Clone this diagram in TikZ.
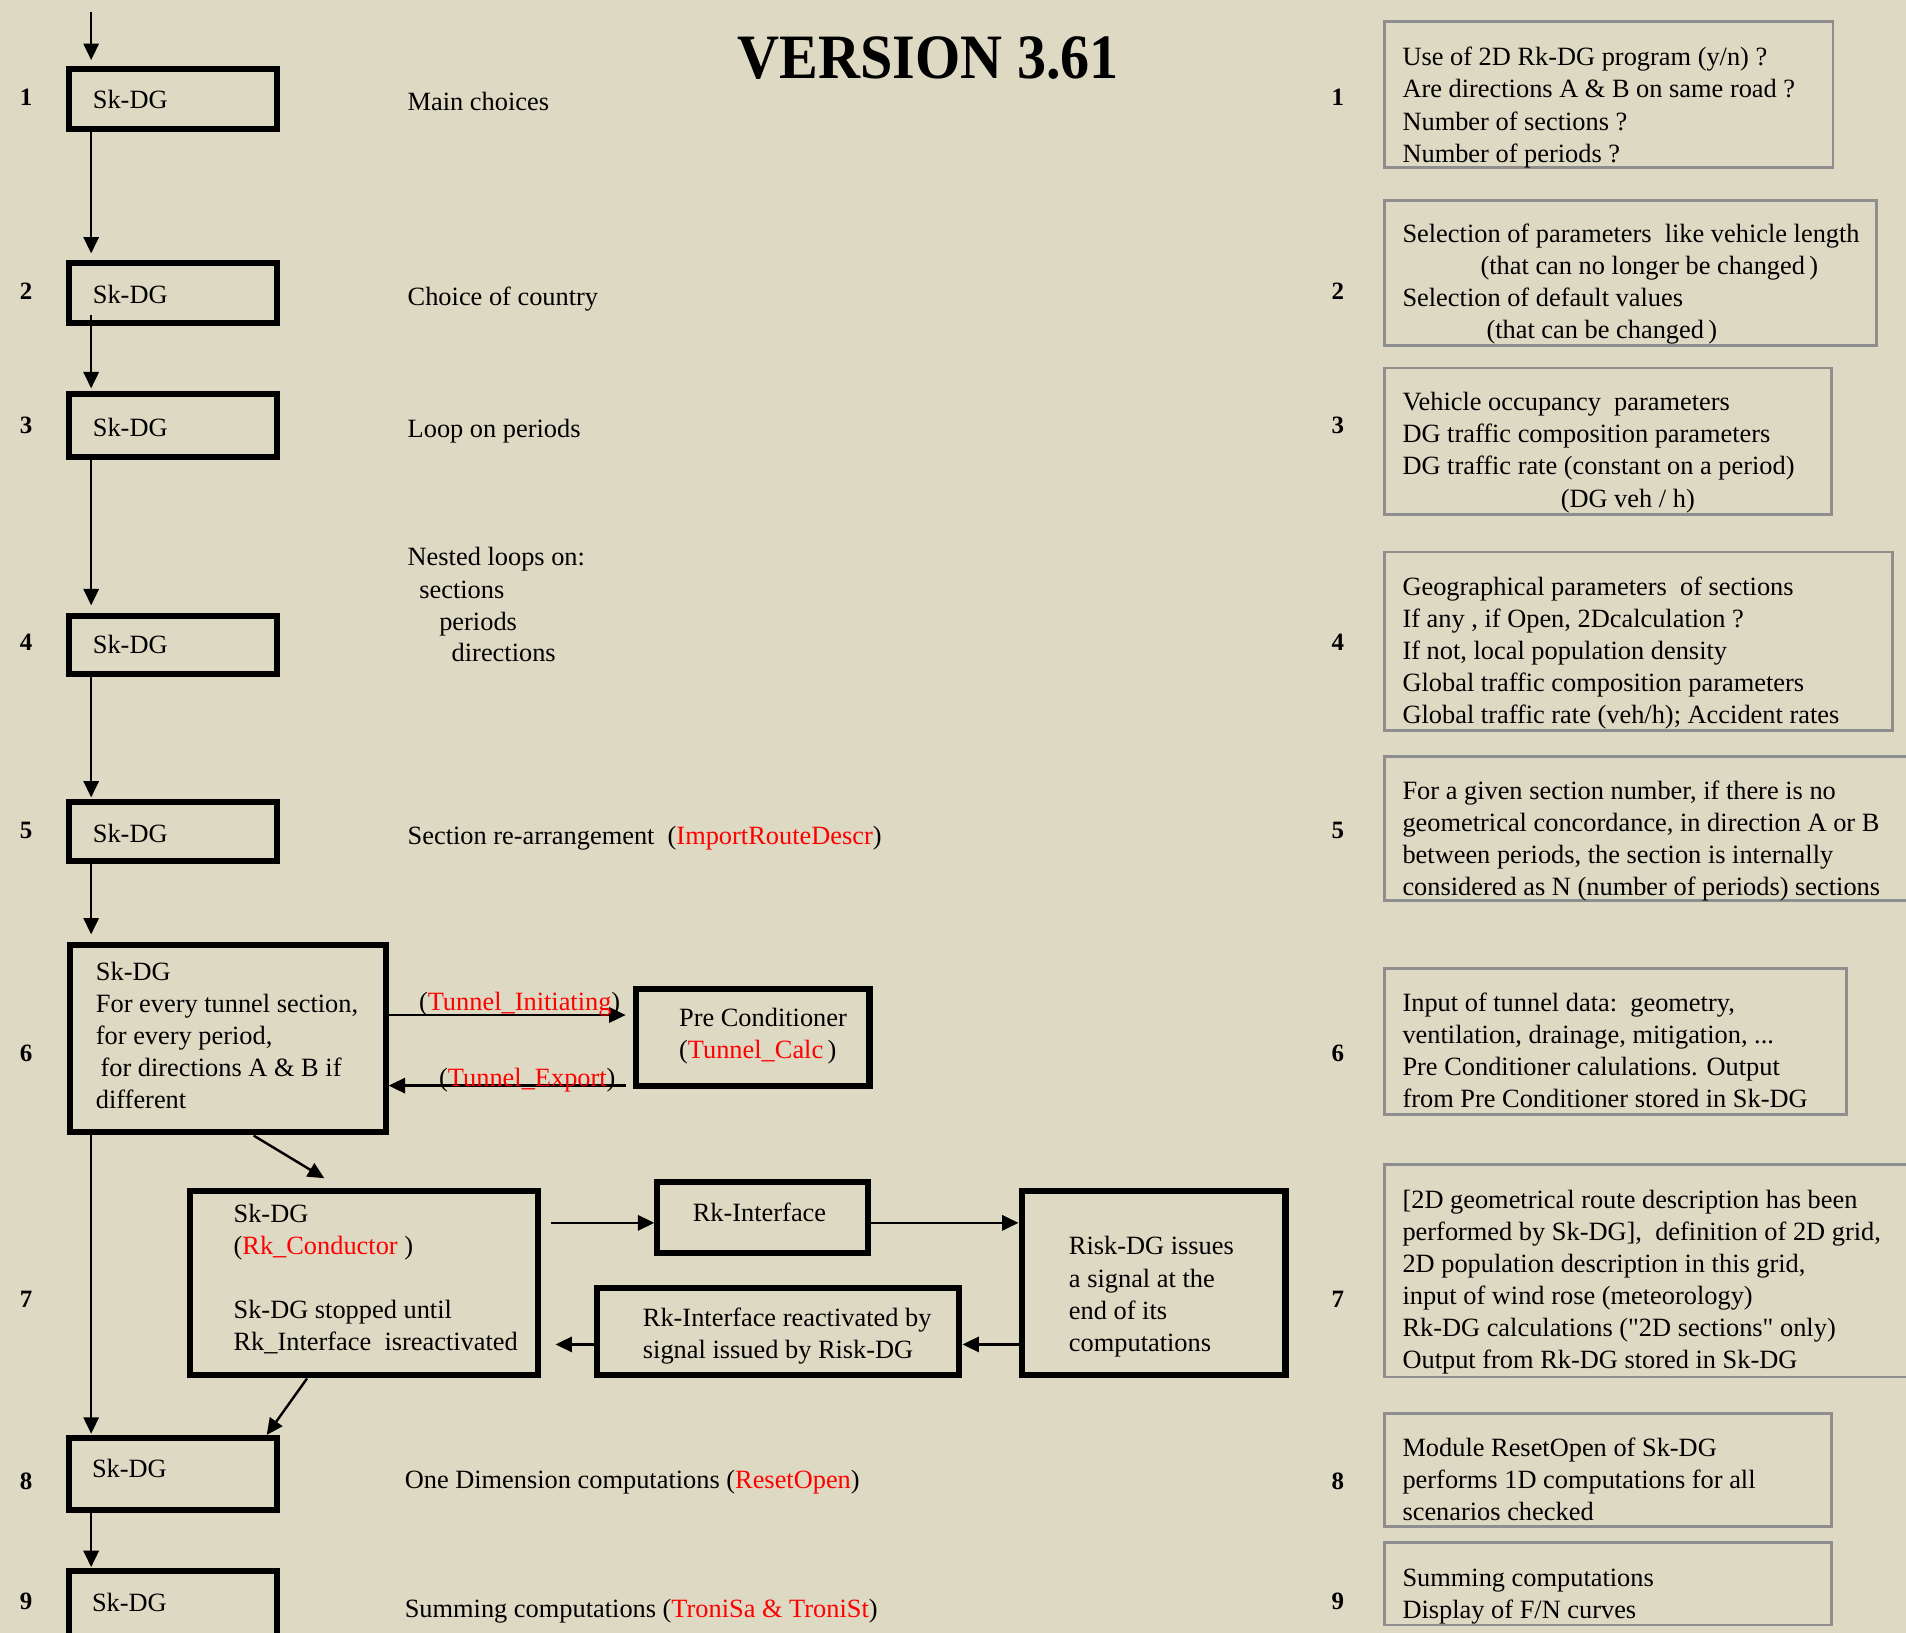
\documentclass[tikz,border=0pt]{standalone}
\usepackage{fontspec}
\setmainfont{Liberation Serif}
\newfontfamily\headfont[FakeStretch=0.92]{Liberation Serif}
\newfontfamily\straightfont[Ligatures=TeXOff]{Liberation Serif}
\usetikzlibrary{arrows.meta,calc}

\definecolor{paper}{HTML}{DDD9C3}
\definecolor{framegray}{HTML}{8E8E8E}
\newcommand\bodyfont{\fontsize{21.7pt}{26.4pt}\selectfont}
\newcommand\mlines[1]{\begin{tabular}[t]{@{}l@{}}#1\end{tabular}}
\newcommand\redtxt[1]{\textcolor{red}{#1}}
\newcommand\dq{{\straightfont\char34}}

\begin{document}
\begin{tikzpicture}[x=1pt,y=-1pt,
  flowbox/.style={draw=black,line width=5pt,inner sep=0pt},
  notebox/.style={draw=framegray,line width=2.2pt,inner sep=0pt,anchor=north west},
  arr/.style={line width=2pt,-{Triangle[length=13.5pt,width=12.5pt]}},
  lbl/.style={anchor=base west,inner sep=0pt,outer sep=0pt,font=\bodyfont},
  stepnum/.style={anchor=base,inner sep=0pt,font=\fontsize{20.5pt}{20.5pt}\selectfont\bfseries}]

% page
\useasboundingbox (0,0) rectangle (1568,1343);
\fill[paper] (0,0) rectangle (1568,1343);
\clip (0,0) rectangle (1568,1343);

% title
\node[anchor=base,inner sep=0pt,font=\headfont\fontsize{52pt}{52pt}\selectfont\bfseries] (title) at (763.7,64.4) {VERSION 3.61};

% ---------- main flow (Sk-DG steps) ----------
\node[flowbox,minimum width=171.2pt,minimum height=49.5pt] (b1) at (142.5,81.25) {};
\node[flowbox,minimum width=171.2pt,minimum height=49pt]   (b2) at (142.5,241) {};
\node[flowbox,minimum width=171.2pt,minimum height=51.5pt] (b3) at (142.5,350.25) {};
\node[flowbox,minimum width=171.2pt,minimum height=48pt]   (b4) at (142.5,530.5) {};
\node[flowbox,minimum width=171.2pt,minimum height=49pt]   (b5) at (142.5,684) {};
\node[flowbox,minimum width=259.7pt,minimum height=154pt]  (b6) at (187.35,854.2) {};
\node[flowbox,minimum width=286.5pt,minimum height=151.4pt] (b7) at (299.25,1055.8) {};
\node[flowbox,minimum width=171.2pt,minimum height=59.5pt] (b8) at (142.5,1212.75) {};
\node[flowbox,minimum width=171.2pt,minimum height=74.6pt] (b9) at (142.5,1330) {};

% side modules
\node[flowbox,minimum width=192pt,minimum height=80.2pt]    (pre)  at (619.3,853.5) {};
\node[flowbox,minimum width=172.9pt,minimum height=58pt]    (rk)   at (627.25,1001.7) {};
\node[flowbox,minimum width=217.1pt,minimum height=151.3pt] (risk) at (948.95,1055.75) {};
\node[flowbox,minimum width=298.3pt,minimum height=71.9pt]  (re)   at (640.15,1095.45) {};

% texts inside the boxes
\node[lbl] (t1) at (76.4,89.1) {Sk-DG};
\node[lbl] (t2) at (76.4,249.5) {Sk-DG};
\node[lbl] (t3) at (76.4,359.2) {Sk-DG};
\node[lbl] (t4) at (76.4,538) {Sk-DG};
\node[lbl] (t5) at (76.4,693) {Sk-DG};
\node[lbl] (t6) at (78.9,806.7) {\mlines{Sk-DG\\For every tunnel section,\\for every period,\\\hspace{3.8pt}for directions A \& B if\\different}};
\node[lbl] (t7) at (192.2,1005.8) {\mlines{Sk-DG\\(\redtxt{Rk\_Conductor} )\\ \\Sk-DG stopped until\\Rk\_Interface\ \ isreactivated}};
\node[lbl] (t8) at (75.7,1215.3) {Sk-DG};
\node[lbl] (t9) at (75.7,1325.8) {Sk-DG};
\node[lbl] (tpre) at (558.7,844.6) {\mlines{Pre Conditioner\\(\redtxt{Tunnel\_Calc}\,)}};
\node[lbl,anchor=base] (trk) at (624.8,1005) {Rk-Interface};
\node[lbl,font=\fontsize{21.7pt}{26.5pt}\selectfont] (trisk) at (879.4,1032.4) {\mlines{Risk-DG issues\\a signal at the\\end of its\\computations}};
\node[lbl] (tre) at (528.9,1091.4) {\mlines{Rk-Interface\ reactivated\ by\\signal issued by Risk-DG}};

% step descriptions
\node[lbl] (d1) at (335.4,91.3) {Main choices};
\node[lbl] (d2) at (335.4,251) {Choice of country};
\node[lbl] (d3) at (335.4,360) {Loop on periods};
\node[lbl] (d4a) at (335.4,465.6) {Nested loops\ on:};
\node[lbl] (d4b) at (345,492.2) {sections};
\node[lbl] (d4c) at (361.4,518.3) {periods};
\node[lbl] (d4d) at (371.6,544.3) {directions};
\node[lbl] (d5) at (335.4,695) {Section re-arrangement\ \ (\redtxt{ImportRouteDescr})};
\node[lbl] (d8) at (333,1224.4) {One Dimension computations (\redtxt{ResetOpen})};
\node[lbl] (d9) at (333,1330.5) {Summing computations (\redtxt{TroniSa \& TroniSt})};

% step numbers, left and right
\foreach \n/\y in {1/86.4,2/246,3/356.5,4/535,5/690,6/873,7/1076,8/1225,9/1324}{
  \node[stepnum] (nl\n) at (21.5,\y) {\n};
  \node[stepnum] (nr\n) at (1100.5,\y) {\n};
}

% ---------- connectors ----------
\coordinate (spine) at (75,0);
\coordinate (entry) at (75,9.6);
\draw[arr,shorten >=4.6pt] (entry) -- (b1.north -| spine);
\draw[arr,shorten >=5.5pt] (b1.south -| spine) -- (b2.north -| spine);
\draw[arr,shorten <=-9pt,shorten >=2.5pt] (b2.south -| spine) -- (b3.north -| spine);
\draw[arr,shorten >=6pt] (b3.south -| spine) -- (b4.north -| spine);
\draw[arr,shorten >=1pt] (b4.south -| spine) -- (b5.north -| spine);
\draw[arr,shorten >=6pt] (b5.south -| spine) -- (b6.north -| spine);
\draw[arr,shorten >=1pt] (b6.south -| spine) -- (b8.north -| spine);
\draw[arr,shorten >=1pt] (b8.south -| spine) -- (b9.north -| spine);

% exchanges with the Pre Conditioner
\path ($(b6.east)+(0,-19.2)$) coordinate (ini0);
\path ($(pre.west)+(-6.1,39.6)$) coordinate (exp0);
\draw[arr,shorten >=6.1pt] (ini0) -- (ini0 -| pre.west);
\draw[arr] (exp0) -- (exp0 -| b6.east);
\node[lbl] (lini) at (344.7,831.7) {(\redtxt{Tunnel\_Initiating})};
\node[lbl] (lexp) at (361.3,894) {(\redtxt{Tunnel\_Export})};

% Sk-DG / Rk-DG handshake
\draw[arr] ($(b6.south)+(21.35,0.5)$) -- ($(b7.north)+(-32.45,-8.3)$);
\draw[arr] ($(b7.south)+(-46.65,0)$) -- ($(b8.north)+(76.9,0)$);
\path ($(rk.west)+(0,4.3)$) coordinate (sig0);
\path ($(re.east)+(0,10.55)$) coordinate (sig1);
\draw[arr,shorten <=8pt] (sig0 -| b7.east) -- (sig0);
\draw[arr] (sig0 -| rk.east) -- (sig0 -| risk.west);
\draw[arr] (sig1 -| risk.west) -- (sig1);
\draw[arr,shorten >=12pt] (sig1 -| re.west) -- (sig1 -| b7.east);

% ---------- notes column ----------
\node[notebox,minimum width=368.8pt,minimum height=120.1pt] (r1) at (1138,16.7) {};
\node[notebox,minimum width=404.8pt,minimum height=119.3pt] (r2) at (1138,164) {};
\node[notebox,minimum width=367.8pt,minimum height=120.6pt] (r3) at (1138,301.7) {};
\node[notebox,minimum width=417.8pt,minimum height=146.8pt] (r4) at (1138,453) {};
\node[notebox,minimum width=450pt,minimum height=118.8pt]   (r5) at (1138,621) {};
\node[notebox,minimum width=380.2pt,minimum height=120.2pt] (r6) at (1138,795.5) {};
\node[notebox,minimum width=450pt,minimum height=174.8pt]   (r7) at (1138,957) {};
\node[notebox,minimum width=367.8pt,minimum height=92.8pt]  (r8) at (1138,1162) {};
\node[notebox,minimum width=367.8pt,minimum height=67.8pt]  (r9) at (1138,1268) {};

\node[lbl] (n1) at (1153.8,54.2) {\mlines{Use of 2D Rk-DG program (y/n) ?\\Are directions A \& B on same road ?\\Number of sections ?\\Number of periods ?}};
\node[lbl] (n2) at (1153.8,199.6) {\mlines{Selection of parameters\ \ like vehicle length\\\hspace{64.2pt}(that can no longer be changed\,)\\Selection of default values\\\hspace{69.1pt}(that can be changed\,)}};
\node[lbl] (n3) at (1153.8,337.9) {\mlines{Vehicle occupancy\ \ parameters\\DG traffic composition parameters\\DG traffic rate (constant on a period)\\\hspace{130.2pt}(DG veh / h)}};
\node[lbl] (n4) at (1153.8,489.8) {\mlines{Geographical parameters\ \ of sections\\If any , if Open, 2Dcalculation ?\\If not, local population density\\Global traffic composition parameters\\Global traffic rate (veh/h); Accident rates}};
\node[lbl] (n5) at (1153.8,657.8) {\mlines{For a given section number, if there is no\\geometrical concordance, in direction A or B\\between periods, the section is internally\\considered as N (number of periods) sections}};
\node[lbl] (n6) at (1153.8,832.3) {\mlines{Input of tunnel data:\ \ geometry,\\ventilation, drainage, mitigation, ...\\Pre Conditioner calulations. Output\\from Pre Conditioner stored in Sk-DG}};
\node[lbl] (n7) at (1153.8,994) {\mlines{[2D geometrical route description has been\\performed by Sk-DG],\ \ definition of 2D grid,\\2D population description in this grid,\\input of wind rose (meteorology)\\Rk-DG calculations (\dq 2D sections\dq\ only)\\Output from Rk-DG stored in Sk-DG}};
\node[lbl] (n8) at (1153.8,1198.3) {\mlines{Module ResetOpen of Sk-DG\\performs 1D computations for all\\scenarios checked}};
\node[lbl] (n9) at (1153.8,1305.3) {\mlines{Summing computations\\Display of F/N curves}};
\end{tikzpicture}
\end{document}
